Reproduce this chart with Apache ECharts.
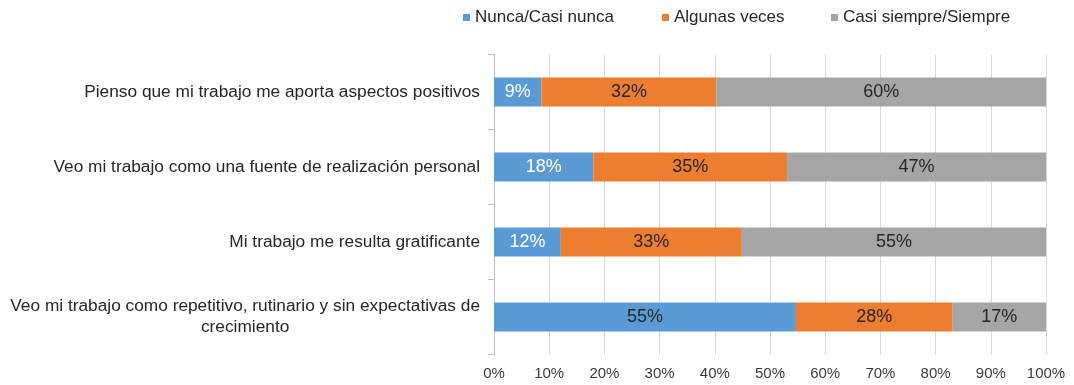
<!DOCTYPE html>
<html><head><meta charset="utf-8">
<script src="https://cdn.jsdelivr.net/npm/echarts@6/dist/echarts.min.js"></script>
<style>html,body{margin:0;padding:0;background:#fff}#c{width:1074px;height:385px}</style>
</head><body><div id="c"></div>
<script>
const categories = [
  "Pienso que mi trabajo me aporta aspectos positivos",
  "Veo mi trabajo como una fuente de realización personal",
  "Mi trabajo me resulta gratificante",
  "Veo mi trabajo como repetitivo, rutinario y sin expectativas de\ncrecimiento"
];
const seriesNames = ["Nunca/Casi nunca", "Algunas veces", "Casi siempre/Siempre"];
const nunca = [8.6, 18.0, 12.1, 54.7];
const algunas = [31.7, 35.1, 32.8, 28.4];
const siempre = [59.7, 46.9, 55.1, 16.9];
const xTicks = [0, 10, 20, 30, 40, 50, 60, 70, 80, 90, 100];

const FONT = "'Liberation Sans', Arial, sans-serif";
const colors = ["#5b9bd5", "#ed7d31", "#a5a5a5"];
const chart = echarts.init(document.getElementById('c'), null, {renderer: 'canvas'});

function mkSeries(name, vals, color, labelColors) {
  return {
    name: name, type: 'bar', stack: 'total', barWidth: 29,
    itemStyle: {color: color},
    label: {
      show: true, position: 'inside', fontFamily: FONT, fontSize: 18,
      formatter: p => Math.round(p.value) + '%'
    },
    data: vals.map((v, i) => ({value: v, label: {color: labelColors[i]}}))
  };
}
const dark = '#262626';
const legendLefts = [463, 662, 831];

chart.setOption({
  animation: false,
  textStyle: {fontFamily: FONT},
  legend: seriesNames.map((n, i) => ({
    data: [n], left: legendLefts[i], top: 9, padding: 0, itemWidth: 7, itemHeight: 7, itemGap: 5,
    icon: 'rect', textStyle: {fontFamily: FONT, fontSize: 17, color: dark}
  })),
  grid: {left: 494, right: 28, top: 54.5, bottom: 30.5, containLabel: false},
  xAxis: {
    type: 'value', min: xTicks[0], max: xTicks[xTicks.length - 1], interval: xTicks[1] - xTicks[0],
    axisLine: {show: false}, axisTick: {show: false},
    splitLine: {lineStyle: {color: '#d9d9d9', width: 1}},
    axisLabel: {formatter: '{value}%', fontFamily: FONT, fontSize: 15, color: '#3a3a3a', margin: 12}
  },
  yAxis: {
    type: 'category', inverse: true, data: categories,
    axisLine: {show: true, lineStyle: {color: '#bfbfbf'}},
    axisTick: {show: true, length: 6, lineStyle: {color: '#bfbfbf'}},
    axisLabel: {
      margin: 14, fontFamily: FONT, fontSize: 17.3, color: dark, align: 'right',
      formatter: v => v.split('\n').map(l => '{c|' + l + '}').join('\n'),
      rich: {c: {align: 'center', fontFamily: FONT, fontSize: 17.3, color: dark, lineHeight: 21}}
    }
  },
  series: [
    mkSeries(seriesNames[0], nunca, colors[0], ['#fff', '#fff', '#fff', dark]),
    mkSeries(seriesNames[1], algunas, colors[1], [dark, dark, dark, dark]),
    mkSeries(seriesNames[2], siempre, colors[2], [dark, dark, dark, dark])
  ]
});
</script></body></html>
